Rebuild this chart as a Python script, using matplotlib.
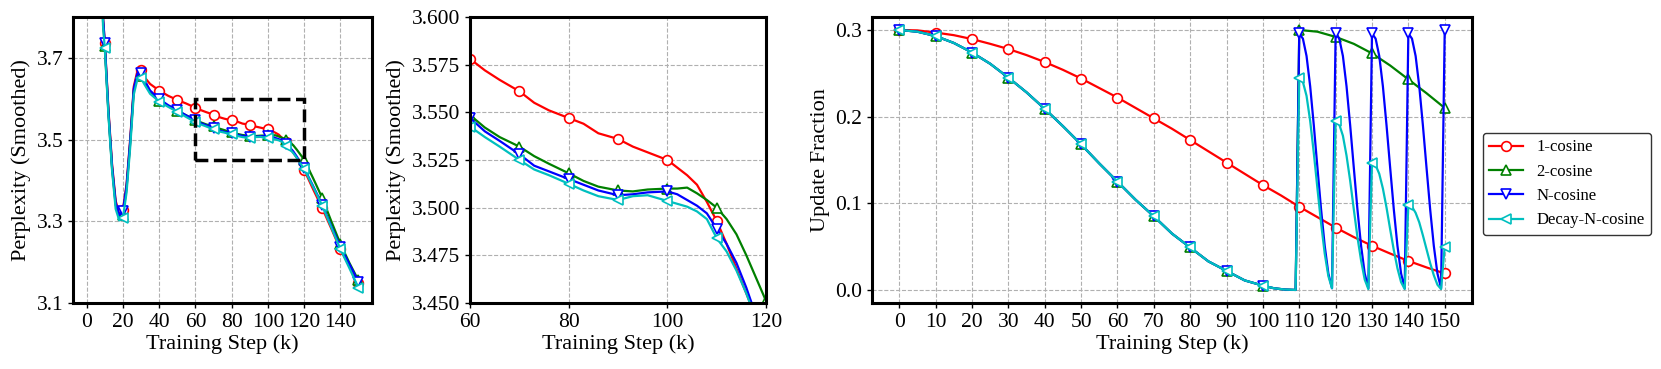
import matplotlib
matplotlib.use("Agg")
import matplotlib.pyplot as plt
from matplotlib.patches import Rectangle

plt.rcParams["font.family"] = ["Liberation Serif", "DejaVu Serif"]

# ---- perplexity curves (smoothed), shared by the two left panels ----
ppl_steps = [0, 4, 7, 9, 10, 12, 14, 16, 18, 20, 22, 24, 26, 28, 30, 32, 35,
             40, 45, 50, 55, 60, 63, 66, 70, 73, 76, 80, 83, 86, 90, 93, 96,
             100, 102, 104, 106, 108, 110, 112, 114, 116, 118, 120, 125, 130,
             135, 140, 145, 150]

ppl_1cos = [9.0, 6.0, 4.3, 3.80, 3.737, 3.575, 3.44, 3.35, 3.318, 3.328, 3.39,
            3.50, 3.63, 3.668, 3.670, 3.652, 3.636, 3.620, 3.607, 3.597, 3.588,
            3.578, 3.572, 3.567, 3.561, 3.555, 3.551, 3.547, 3.544, 3.539,
            3.536, 3.532, 3.529, 3.525, 3.521, 3.517, 3.512, 3.503, 3.493,
            3.481, 3.468, 3.455, 3.442, 3.426, 3.378, 3.332, 3.282, 3.231,
            3.190, 3.148]

ppl_2cos = [9.0, 6.0, 4.3, 3.79, 3.728, 3.565, 3.43, 3.34, 3.31, 3.315, 3.38,
            3.49, 3.62, 3.655, 3.655, 3.638, 3.618, 3.595, 3.582, 3.570, 3.559,
            3.5485, 3.542, 3.537, 3.532, 3.527, 3.523, 3.518, 3.514, 3.511,
            3.509, 3.5085, 3.5095, 3.510, 3.510, 3.5105, 3.5075, 3.504, 3.500,
            3.494, 3.486, 3.475, 3.463, 3.451, 3.405, 3.357, 3.300, 3.245,
            3.198, 3.155]

ppl_ncos = [9.0, 6.0, 4.3, 3.80, 3.737, 3.57, 3.435, 3.345, 3.315, 3.325,
            3.385, 3.495, 3.625, 3.662, 3.664, 3.645, 3.62, 3.599, 3.584,
            3.572, 3.559, 3.547, 3.540, 3.535, 3.528, 3.522, 3.519, 3.515,
            3.512, 3.509, 3.5065, 3.507, 3.508, 3.5085, 3.507, 3.504, 3.501,
            3.497, 3.489, 3.481, 3.471, 3.458, 3.443, 3.430, 3.386, 3.340,
            3.288, 3.238, 3.195, 3.152]

ppl_decay = [9.0, 6.0, 4.3, 3.78, 3.723, 3.56, 3.425, 3.33, 3.302, 3.308,
             3.37, 3.48, 3.61, 3.648, 3.650, 3.634, 3.612, 3.593, 3.580,
             3.568, 3.555, 3.5425, 3.537, 3.532, 3.525, 3.520, 3.517, 3.5125,
             3.509, 3.506, 3.504, 3.506, 3.5065, 3.5035, 3.502, 3.5005, 3.498,
             3.494, 3.484, 3.477, 3.467, 3.455, 3.441, 3.428, 3.384, 3.338,
             3.285, 3.232, 3.185, 3.137]

# ---- update fraction schedules ----
first_cycle_steps = [0, 5, 10, 15, 20, 25, 30, 35, 40, 45, 50, 55, 60, 65, 70,
                     75, 80, 85, 90, 95, 100, 103, 106, 109]
first_cycle_frac = [0.300, 0.298, 0.293, 0.285, 0.274, 0.261, 0.245, 0.228,
                    0.209, 0.189, 0.168, 0.146, 0.125, 0.104, 0.085, 0.065,
                    0.049, 0.033, 0.022, 0.011, 0.005, 0.002, 0.0005, 0.0]

one_cos_steps = [0, 5, 10, 15, 20, 25, 30, 35, 40, 45, 50, 55, 60, 65, 70, 75,
                 80, 85, 90, 95, 100, 105, 110, 115, 120, 125, 130, 135, 140,
                 145, 150]
one_cos_frac = [0.300, 0.2995, 0.297, 0.294, 0.2895, 0.284, 0.278, 0.271,
                0.263, 0.254, 0.244, 0.233, 0.222, 0.210, 0.198, 0.186, 0.173,
                0.160, 0.147, 0.134, 0.121, 0.109, 0.096, 0.084, 0.072, 0.061,
                0.051, 0.042, 0.0335, 0.026, 0.019]

two_cos_tail_steps = [110, 115, 120, 125, 130, 135, 140, 145, 150]
two_cos_tail_frac = [0.300, 0.298, 0.292, 0.284, 0.273, 0.259, 0.243, 0.227,
                     0.210]

# short restarts after 110k, one value per 1k step
restart_steps = list(range(110, 151))
n_cos_restarts = [0.296, 0.290, 0.270, 0.235, 0.190, 0.141, 0.093, 0.051, 0.019, 0.002,
                  0.296, 0.290, 0.270, 0.235, 0.190, 0.141, 0.093, 0.051, 0.019, 0.002,
                  0.296, 0.290, 0.270, 0.235, 0.190, 0.141, 0.093, 0.051, 0.019, 0.002,
                  0.296, 0.290, 0.270, 0.235, 0.190, 0.141, 0.093, 0.051, 0.019, 0.002,
                  0.300]
decay_restarts = [0.245, 0.240, 0.224, 0.195, 0.158, 0.117, 0.077, 0.042, 0.016, 0.002,
                  0.195, 0.191, 0.178, 0.155, 0.126, 0.093, 0.061, 0.034, 0.012, 0.001,
                  0.147, 0.144, 0.134, 0.117, 0.095, 0.070, 0.046, 0.025, 0.009, 0.001,
                  0.098, 0.096, 0.089, 0.078, 0.063, 0.047, 0.031, 0.017, 0.006, 0.001,
                  0.050]

labels = ["1-cosine", "2-cosine", "N-cosine", "Decay-N-cosine"]
colors = ["r", "g", "b", "c"]
markers = ["o", "^", "v", "<"]


def tens(steps):
    # indices of the points that get a marker (every 10k)
    return [i for i, s in enumerate(steps) if s % 10 == 0]


def style_axes(ax):
    ax.grid(True, linestyle="--", color="#b0b0b0", linewidth=0.8)
    ax.set_axisbelow(True)
    for sp in ax.spines.values():
        sp.set_linewidth(2.2)
    ax.tick_params(labelsize=15.5, width=1.0, length=3.5)
    ax.set_xlabel("Training Step (k)", fontsize=16, labelpad=2)


def draw_ppl(ax):
    for y, c, m, lab in zip([ppl_1cos, ppl_2cos, ppl_ncos, ppl_decay],
                            colors, markers, labels):
        ax.plot(ppl_steps, y, color=c, marker=m, markevery=tens(ppl_steps),
                markerfacecolor="white", markeredgecolor=c, markersize=7,
                markeredgewidth=1.2, linewidth=1.6, label=lab)


fig = plt.figure(figsize=(16.61, 3.69), dpi=100)
ax1 = fig.add_axes([0.0440, 0.179, 0.180, 0.775])
ax2 = fig.add_axes([0.2830, 0.179, 0.1782, 0.775])
ax3 = fig.add_axes([0.5250, 0.179, 0.3612, 0.775])

# left: full perplexity curve
draw_ppl(ax1)
ax1.set_xlim(-7.5, 157.5)
ax1.set_ylim(3.1, 3.8)
ax1.set_xticks(range(0, 141, 20))
ax1.set_yticks([3.1, 3.3, 3.5, 3.7])
ax1.set_yticklabels(["3.1", "3.3", "3.5", "3.7"])
ax1.set_ylabel("Perplexity (Smoothed)", fontsize=16)
ax1.add_patch(Rectangle((60, 3.45), 60, 0.15, fill=False, edgecolor="k",
                        linestyle="--", linewidth=2.5, zorder=5))
style_axes(ax1)

# middle: zoom into the dashed box
draw_ppl(ax2)
ax2.set_xlim(60, 120)
ax2.set_ylim(3.45, 3.60)
ax2.set_xticks([60, 80, 100, 120])
ax2.set_yticks([3.450, 3.475, 3.500, 3.525, 3.550, 3.575, 3.600])
ax2.set_yticklabels(["3.450", "3.475", "3.500", "3.525", "3.550", "3.575", "3.600"])
ax2.set_ylabel("Perplexity (Smoothed)", fontsize=16)
style_axes(ax2)

# right: update fraction schedules
sched = [
    (one_cos_steps, one_cos_frac),
    (first_cycle_steps + two_cos_tail_steps, first_cycle_frac + two_cos_tail_frac),
    (first_cycle_steps + restart_steps, first_cycle_frac + n_cos_restarts),
    (first_cycle_steps + restart_steps, first_cycle_frac + decay_restarts),
]
for (x, y), c, m, lab in zip(sched, colors, markers, labels):
    ax3.plot(x, y, color=c, marker=m, markevery=tens(x),
             markerfacecolor="white", markeredgecolor=c, markersize=7,
             markeredgewidth=1.2, linewidth=1.6, label=lab)
ax3.set_xlim(-7.5, 157.5)
ax3.set_ylim(-0.015, 0.315)
ax3.set_xticks(range(0, 151, 10))
ax3.set_yticks([0.0, 0.1, 0.2, 0.3])
ax3.set_ylabel("Update Fraction", fontsize=16)
style_axes(ax3)

leg = ax3.legend(loc="center left", bbox_to_anchor=(1.018, 0.416),
                 borderaxespad=0, fontsize=12, framealpha=1)
leg.get_frame().set_edgecolor("#333333")
leg.get_frame().set_linewidth(1.0)

plt.savefig("out.png", dpi=100)
